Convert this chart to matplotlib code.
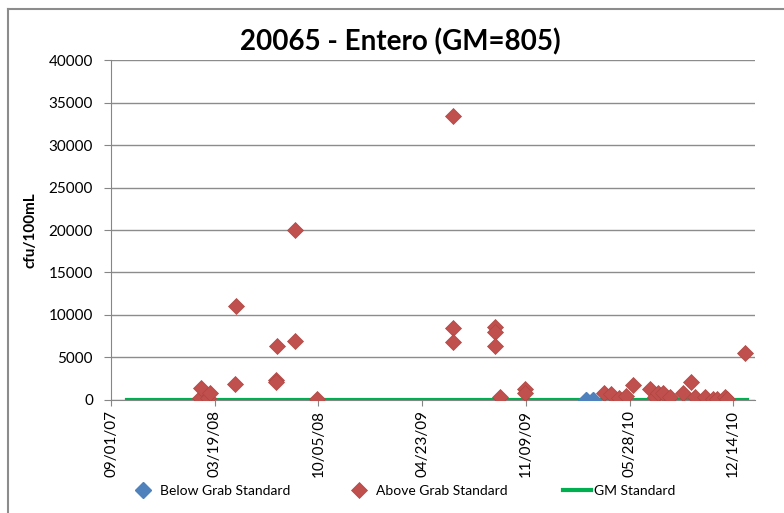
import numpy as np
import matplotlib.pyplot as plt
import matplotlib.dates as mdates
from matplotlib.lines import Line2D

plt.rcParams['font.family'] = ['Lato', 'DejaVu Sans']

# samples above the grab standard
above_dates = ['2008-02-19', '2008-02-21', '2008-03-07', '2008-03-09', '2008-04-28',
               '2008-04-30', '2008-07-15', '2008-07-16', '2008-07-17', '2008-08-20',
               '2008-08-21', '2008-10-02', '2009-06-22', '2009-06-22', '2009-06-22',
               '2009-09-10', '2009-09-10', '2009-09-10', '2009-09-20', '2009-11-07',
               '2009-11-07', '2010-04-09', '2010-04-23', '2010-05-07', '2010-05-22',
               '2010-06-04', '2010-07-06', '2010-07-16', '2010-07-22', '2010-08-01',
               '2010-08-14', '2010-09-09', '2010-09-23', '2010-10-01', '2010-10-21',
               '2010-11-05', '2010-11-12', '2010-11-28', '2010-12-02', '2011-01-06']
above_vals = [200, 1380, 250, 790, 1850,
              11100, 2300, 2100, 6400, 6900,
              20000, 100, 33400, 8430, 6860,
              8620, 8040, 6350, 310, 1260,
              790, 790, 700, 200, 420,
              1750, 1260, 300, 850, 790,
              400, 850, 2080, 350, 400,
              150, 150, 300, 100, 5570]

# samples below the grab standard
below_dates = ['2010-03-06', '2010-03-19']
below_vals = [40, 50]

# geometric mean standard
gm_dates = ['2007-10-01', '2011-01-09']
gm_vals = [35, 35]

tick_dates = ['2007-09-01', '2008-03-19', '2008-10-05', '2009-04-23',
              '2009-11-09', '2010-05-28', '2010-12-14']

def to_dt(lst):
    return np.array(lst, dtype='datetime64[D]')

fig = plt.figure(figsize=(7.84, 5.13), dpi=100)
ax = fig.add_axes([0.1416, 0.2203, 0.963 - 0.1416, 0.883 - 0.2203])

ax.plot(to_dt(gm_dates), gm_vals, color='#00B050', lw=3, label='GM Standard', zorder=2)
ax.plot(to_dt(below_dates), below_vals, 'D', color='#4F81BD', ms=8,
        mec='#4F81BD', label='Below Grab Standard', zorder=3)
ax.plot(to_dt(above_dates), above_vals, 'D', color='#C0504D', ms=8,
        mec='#B04540', mew=0.5, label='Above Grab Standard', zorder=3)

ax.set_xlim(np.datetime64('2007-09-01'), np.datetime64('2011-01-25'))
ax.set_ylim(0, 40000)
ax.set_yticks(np.arange(0, 40001, 5000))
ax.set_xticks(to_dt(tick_dates))
ax.xaxis.set_major_formatter(mdates.DateFormatter('%m/%d/%y'))
ax.tick_params(axis='x', rotation=90, labelsize=11, length=4, color='#868686', pad=3)
ax.tick_params(axis='y', labelsize=11, length=5, color='#868686', pad=8)

ax.grid(axis='y', color='#8c8c8c', lw=1)
ax.set_axisbelow(True)
for s in ['top', 'right']:
    ax.spines[s].set_visible(False)
for s in ['left', 'bottom']:
    ax.spines[s].set_color('#868686')

ax.set_ylabel('cfu/100mL', fontsize=11, fontweight='bold', labelpad=8)
fig.text(400 / 784, 1 - 42 / 513, '20065 - Entero (GM=805)', fontsize=20,
         fontweight='bold', ha='center', va='center')

h, l = ax.get_legend_handles_labels()
order = [1, 2, 0]
fig.legend([h[i] for i in order], [l[i] for i in order], loc='center left',
           bbox_to_anchor=(122 / 784, 1 - 491 / 513), ncol=3, frameon=False,
           fontsize=10, handlelength=2, handletextpad=0.2, columnspacing=4.0,
           borderpad=0)

# chart frame
fig.add_artist(Line2D([8 / 784, 1], [1 - 9 / 513, 1 - 9 / 513], color='#8c8c8c', lw=1.5))
fig.add_artist(Line2D([8 / 784, 8 / 784], [0, 1 - 9 / 513], color='#8c8c8c', lw=1.5))

fig.savefig('out.png', dpi=100)
